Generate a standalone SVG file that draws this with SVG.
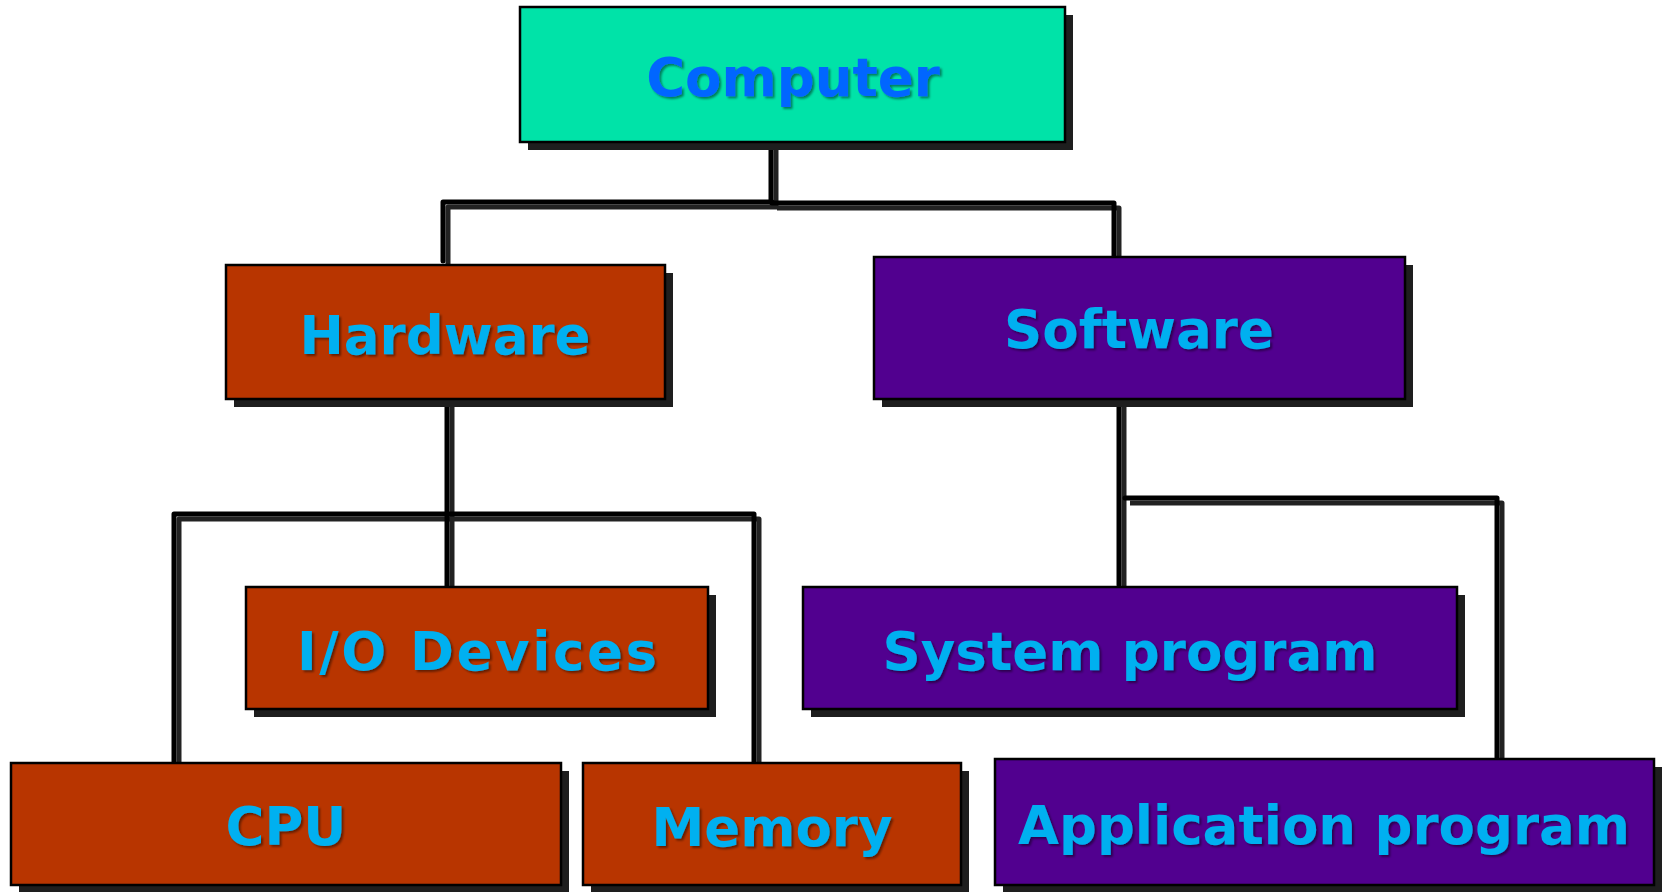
<svg xmlns="http://www.w3.org/2000/svg" width="1665" height="892" viewBox="0 0 1665 892">
  <defs>
    <filter id="txtShadow" x="-5%" y="-20%" width="110%" height="140%">
      <feDropShadow dx="2" dy="2" stdDeviation="1.2" flood-color="#000" flood-opacity="0.45"/>
    </filter>
  </defs>
  <style>
    .shadow { fill: #1e1e1e; }
    .box { stroke: #000; stroke-width: 2.5; }
    .root { fill: #00E3A8; }
    .hw { fill: #B83500; }
    .sw { fill: #51008F; }
    .label { font-family: "DejaVu Sans", Verdana, sans-serif; font-weight: bold; font-size: 53px; text-anchor: middle; fill: #00B0F0; filter: url(#txtShadow); }
    .label.rootText { fill: #0066FF; }
    .wire { fill: none; stroke: #000; stroke-width: 5; stroke-linecap: round; stroke-linejoin: round; }
    .wireShadow { fill: none; stroke: #222; stroke-width: 5; stroke-linejoin: round; }
  </style>

  <!-- connectors: each drawn as a dark offset line under a black line -->
  <g id="connectors">
    <g transform="translate(5,5)">
      <path class="wireShadow" d="M771,141 V202"/>
      <path class="wireShadow" d="M443,261 V202 H772"/>
      <path class="wireShadow" d="M772,203 H1114 V257"/>
      <path class="wireShadow" d="M447,399 V587"/>
      <path class="wireShadow" d="M174,763 V514 H754 V763"/>
      <path class="wireShadow" d="M1119,399 V585"/>
      <path class="wireShadow" d="M1125,498 H1497 V759"/>
    </g>
    <path class="wire" d="M771,141 V202"/>
    <path class="wire" d="M443,261 V202 H772"/>
    <path class="wire" d="M772,203 H1114 V257"/>
    <path class="wire" d="M447,399 V587"/>
    <path class="wire" d="M174,763 V514 H754 V763"/>
    <path class="wire" d="M1119,399 V585"/>
    <path class="wire" d="M1125,498 H1497 V759"/>
  </g>

  <g id="computer">
    <rect class="shadow" x="528" y="15" width="545" height="135"/>
    <rect class="box root" x="520" y="7" width="545" height="135"/>
    <text class="label rootText" x="793" y="96">Computer</text>
  </g>

  <g id="hardware">
    <rect class="shadow" x="234" y="273" width="439" height="134"/>
    <rect class="box hw" x="226" y="265" width="439" height="134"/>
    <text class="label" x="445" y="354">Hardware</text>
  </g>

  <g id="software">
    <rect class="shadow" x="882" y="265" width="531" height="142"/>
    <rect class="box sw" x="874" y="257" width="531" height="142"/>
    <text class="label" x="1139" y="348">Software</text>
  </g>

  <g id="io-devices">
    <rect class="shadow" x="254" y="595" width="462" height="122"/>
    <rect class="box hw" x="246" y="587" width="462" height="122"/>
    <text class="label" x="477" y="670" textLength="360" lengthAdjust="spacing">I/O Devices</text>
  </g>

  <g id="system-program">
    <rect class="shadow" x="811" y="595" width="654" height="122"/>
    <rect class="box sw" x="803" y="587" width="654" height="122"/>
    <text class="label" x="1130" y="670">System program</text>
  </g>

  <g id="cpu">
    <rect class="shadow" x="19" y="771" width="550" height="122"/>
    <rect class="box hw" x="11" y="763" width="550" height="122"/>
    <text class="label" x="286" y="845">CPU</text>
  </g>

  <g id="memory">
    <rect class="shadow" x="591" y="771" width="378" height="122"/>
    <rect class="box hw" x="583" y="763" width="378" height="122"/>
    <text class="label" x="772" y="846">Memory</text>
  </g>

  <g id="application-program">
    <rect class="shadow" x="1003" y="767" width="659" height="126"/>
    <rect class="box sw" x="995" y="759" width="659" height="126"/>
    <text class="label" x="1324" y="844">Application program</text>
  </g>
</svg>
